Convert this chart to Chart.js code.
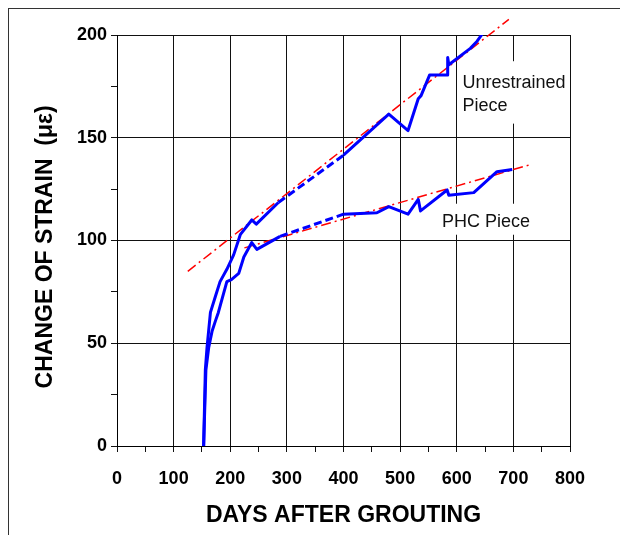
<!DOCTYPE html>
<html>
<head>
<meta charset="utf-8">
<script src="https://cdn.jsdelivr.net/npm/chart.js@4.4.1/dist/chart.umd.min.js"></script>
<style>
  html, body { margin: 0; padding: 0; background: #fff; }
  #wrap { position: relative; width: 620px; height: 535px; overflow: hidden; }
  #strain { position: absolute; left: 0; top: 0; }
  #frame { position: absolute; left: 8px; top: 8px; width: 640px; height: 560px;
           border-top: 1px solid #333; border-left: 1px solid #333; pointer-events: none; }
</style>
</head>
<body>
<div id="wrap">
  <canvas id="strain" width="620" height="535"></canvas>
  <div id="frame"></div>
</div>
<script>
// strain readings, unrestrained piece
const freeDays   = [153, 156, 159, 165, 174, 182, 194, 206, 218, 238, 246, 285, 400, 480, 514, 532, 537, 552, 584, 584, 586, 624, 636, 645];
const freeStrain = [0, 37, 48, 65, 73, 80, 86, 93, 103, 110, 108, 118.5, 141.5, 161.5, 153.5, 169, 170.5, 180.5, 180.5, 189, 185.5, 193.5, 197, 200.5];

// strain readings, PHC piece
const phcDays   = [153, 157, 162, 168, 174, 179, 194, 202, 215, 224, 238, 247, 288, 400, 459, 480, 514, 532, 536, 583, 586, 630, 671, 698];
const phcStrain = [0, 37, 48, 56, 61, 65, 80, 81, 84, 92, 99, 95.7, 102, 112.8, 113.5, 116.5, 112.8, 120, 114.4, 124.6, 122, 123.3, 133.5, 134.6];

// gap in readings (drawn dashed)
const gapFrom = 285, gapTo = 400;

// fitted trend lines
const freeFitDays = [125, 692], freeFitStrain = [85, 207.6];
const phcFitDays  = [225, 727], phcFitStrain  = [96.4, 136.7];

// axis ticks
const xMajor = 100, xMinor = 50;
const yMajor = 50,  yMinor = 25;

const FONT = "'Liberation Sans', Arial, Helvetica, sans-serif";

function pts(xs, ys) { return xs.map((x, i) => ({ x: x, y: ys[i] })); }

function gapDash(ctx) {
  return (ctx.p0.parsed.x >= gapFrom && ctx.p1.parsed.x <= gapTo + 1) ? [8, 4] : undefined;
}

const blue = {
  borderColor: '#0000ff', borderWidth: 3, pointRadius: 0, showLine: true,
  borderJoinStyle: 'round', segment: { borderDash: gapDash }
};
const red = {
  borderColor: '#ff0000', borderWidth: 1.5, pointRadius: 0, showLine: true,
  borderDash: [10, 4, 2, 4], clip: false
};

// labels sitting on white patches over the grid
const notes = [
  { lines: ['Unrestrained', 'Piece'], x: 610, y: 174.1, lead: 22.4, padTop: 27, padBottom: 13, width: 106 },
  { lines: ['PHC Piece'], x: 574, y: 106.7, lead: 0, padTop: 23, padBottom: 8, width: 100 }
];

const notePlugin = {
  id: 'notes',
  beforeDatasetsDraw(chart) {
    const c = chart.ctx, xs = chart.scales.x, ys = chart.scales.y;
    c.save();
    c.font = '18px ' + FONT;
    c.textBaseline = 'alphabetic';
    notes.forEach(n => {
      const px = xs.getPixelForValue(n.x), py = ys.getPixelForValue(n.y);
      const last = py + n.lead * (n.lines.length - 1);
      c.fillStyle = '#fff';
      c.fillRect(px - 4, py - n.padTop, n.width, last + n.padBottom - (py - n.padTop));
      c.fillStyle = '#111';
      n.lines.forEach((t, i) => c.fillText(t, px, py + n.lead * i));
    });
    c.restore();
  }
};

new Chart(document.getElementById('strain'), {
  type: 'scatter',
  data: {
    datasets: [
      Object.assign({ label: 'Unrestrained Piece', data: pts(freeDays, freeStrain) }, blue),
      Object.assign({ label: 'PHC Piece', data: pts(phcDays, phcStrain) }, blue),
      Object.assign({ label: 'Unrestrained fit', data: pts(freeFitDays, freeFitStrain) }, red),
      Object.assign({ label: 'PHC fit', data: pts(phcFitDays, phcFitStrain) }, red)
    ]
  },
  options: {
    responsive: false,
    animation: false,
    layout: { padding: { left: 0, right: 50, top: 35, bottom: 0 } },
    plugins: { legend: { display: false }, tooltip: { enabled: false } },
    scales: {
      x: {
        type: 'linear', min: 0, max: 800,
        afterFit(s) { s.height = 89; },
        border: { display: true, color: '#000', width: 1 },
        grid: {
          color: c => (c.tick && c.tick.value % xMajor === 0) ? '#111' : 'rgba(0,0,0,0)',
          tickColor: '#111', tickLength: 6, lineWidth: 1
        },
        ticks: {
          stepSize: xMinor, autoSkip: false, maxRotation: 0, minRotation: 0, padding: 16,
          color: '#000', font: { family: FONT, size: 18, weight: 'bold' },
          callback: v => (v % xMajor === 0 ? String(v) : '')
        },
        title: {
          display: true, text: 'DAYS AFTER GROUTING', color: '#000',
          font: { family: FONT, size: 23, weight: 'bold' }, padding: { top: 0, bottom: 6 }
        }
      },
      y: {
        type: 'linear', min: 0, max: 200,
        afterFit(s) { s.width = 117; },
        border: { display: true, color: '#000', width: 1 },
        grid: {
          color: c => (c.tick && c.tick.value % yMajor === 0) ? '#111' : 'rgba(0,0,0,0)',
          tickColor: '#111', tickLength: 6, lineWidth: 1
        },
        ticks: {
          stepSize: yMinor, autoSkip: false, padding: 4,
          color: '#000', font: { family: FONT, size: 18, weight: 'bold' },
          callback: v => (v % yMajor === 0 ? String(v) : '')
        },
        title: {
          display: true, text: 'CHANGE OF STRAIN  (\u03bc\u03b5)  ', color: '#000',
          font: { family: FONT, size: 23, weight: 'bold' }, padding: { top: 32, bottom: 0 }
        }
      }
    }
  },
  plugins: [notePlugin]
});
</script>
</body>
</html>
